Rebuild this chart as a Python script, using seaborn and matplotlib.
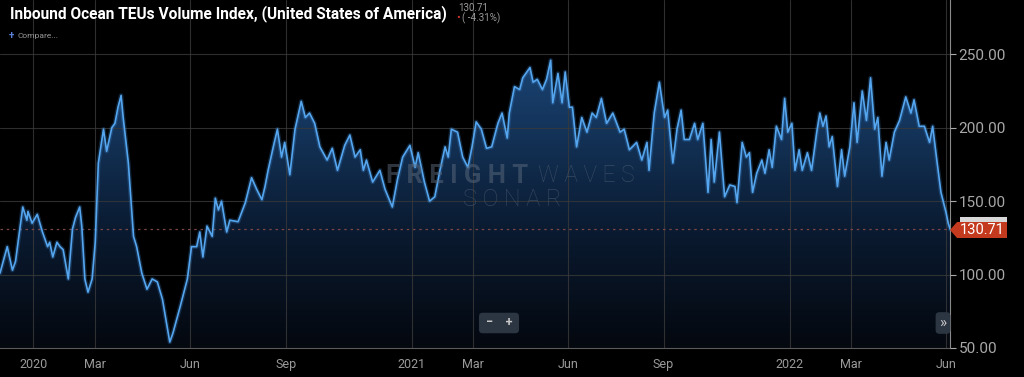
import numpy as np
import pandas as pd
import seaborn as sns
import matplotlib
matplotlib.use("Agg")
import matplotlib.pyplot as plt
import matplotlib.dates as mdates
from matplotlib.patches import Polygon, Rectangle
from matplotlib.colors import LinearSegmentedColormap

# values
dates = [
    "2019-11-30", "2019-12-07", "2019-12-12", "2019-12-15", "2019-12-22", "2019-12-26", "2019-12-27", "2019-12-31",
    "2020-01-05", "2020-01-10", "2020-01-15", "2020-01-17", "2020-01-20", "2020-01-24", "2020-01-27", "2020-01-30",
    "2020-02-04", "2020-02-08", "2020-02-11", "2020-02-15", "2020-02-17", "2020-02-20", "2020-02-23", "2020-02-27",
    "2020-03-01", "2020-03-04", "2020-03-09", "2020-03-12", "2020-03-17", "2020-03-20", "2020-03-23", "2020-03-26", "2020-03-28",
    "2020-04-02", "2020-04-07", "2020-04-10", "2020-04-15", "2020-04-20", "2020-04-25", "2020-04-30",
    "2020-05-05", "2020-05-12", "2020-05-15", "2020-05-22", "2020-05-29",
    "2020-06-02", "2020-06-07", "2020-06-10", "2020-06-13", "2020-06-17", "2020-06-22", "2020-06-25", "2020-06-28",
    "2020-07-01", "2020-07-06", "2020-07-09", "2020-07-17", "2020-07-24", "2020-07-30",
    "2020-08-04", "2020-08-09", "2020-08-12", "2020-08-15", "2020-08-20", "2020-08-24", "2020-08-28", "2020-08-31",
    "2020-09-05", "2020-09-10", "2020-09-16", "2020-09-20", "2020-09-24", "2020-09-29",
    "2020-10-04", "2020-10-11", "2020-10-16", "2020-10-21", "2020-10-28",
    "2020-11-02", "2020-11-07", "2020-11-12", "2020-11-15", "2020-11-18", "2020-11-24",
    "2020-12-01", "2020-12-06", "2020-12-13", "2020-12-18", "2020-12-23", "2020-12-30",
    "2021-01-04", "2021-01-07", "2021-01-13", "2021-01-18", "2021-01-23", "2021-01-28",
    "2021-02-02", "2021-02-05", "2021-02-08", "2021-02-14", "2021-02-19", "2021-02-24", "2021-02-28",
    "2021-03-04", "2021-03-09", "2021-03-14", "2021-03-19", "2021-03-25", "2021-03-29",
    "2021-04-03", "2021-04-05", "2021-04-10", "2021-04-15", "2021-04-18", "2021-04-25", "2021-04-28",
    "2021-05-02", "2021-05-07", "2021-05-11", "2021-05-15", "2021-05-17", "2021-05-22", "2021-05-26", "2021-05-29",
    "2021-06-02", "2021-06-05", "2021-06-09", "2021-06-14", "2021-06-19", "2021-06-24", "2021-06-28",
    "2021-07-03", "2021-07-08", "2021-07-14", "2021-07-21", "2021-07-25", "2021-07-30",
    "2021-08-06", "2021-08-11", "2021-08-16", "2021-08-18", "2021-08-23", "2021-08-28",
    "2021-09-02", "2021-09-05", "2021-09-10", "2021-09-14", "2021-09-18", "2021-09-21", "2021-09-26",
    "2021-10-01", "2021-10-04", "2021-10-09", "2021-10-14", "2021-10-17", "2021-10-20", "2021-10-25", "2021-10-30",
    "2021-11-04", "2021-11-09", "2021-11-11", "2021-11-16", "2021-11-20", "2021-11-23", "2021-11-26", "2021-11-30",
    "2021-12-05", "2021-12-08", "2021-12-12", "2021-12-15", "2021-12-19", "2021-12-24", "2021-12-27", "2021-12-30",
    "2022-01-03", "2022-01-06", "2022-01-10", "2022-01-13", "2022-01-18", "2022-01-22", "2022-01-27", "2022-01-30",
    "2022-02-02", "2022-02-05", "2022-02-08", "2022-02-11", "2022-02-16", "2022-02-20", "2022-02-23", "2022-02-28",
    "2022-03-04", "2022-03-07", "2022-03-12", "2022-03-16", "2022-03-20", "2022-03-24", "2022-03-27", "2022-03-31",
    "2022-04-04", "2022-04-07", "2022-04-12", "2022-04-17", "2022-04-23", "2022-04-28",
    "2022-05-01", "2022-05-06", "2022-05-11", "2022-05-16", "2022-05-19", "2022-05-23", "2022-05-27",
    "2022-06-01", "2022-06-03", "2022-06-05",
]
values = [
    101, 119, 103, 109, 146, 137, 143, 135,
    141, 129, 119, 122, 112, 122, 119, 117,
    97, 131, 139, 146, 133, 97, 88, 97,
    122, 176, 199, 184, 200, 203, 214, 222, 207,
    176, 126, 119, 101, 90, 97, 95,
    83, 54, 60, 78, 97,
    119, 119, 129, 112, 133, 126, 152, 144,
    150, 129, 137, 136, 149, 166,
    158, 151, 160, 171, 187, 199, 180, 190,
    168, 199, 218, 207, 210, 203,
    187, 178, 186, 171, 188,
    195, 180, 185, 171, 178, 163,
    171, 158, 146, 165, 180, 188,
    173, 183, 163, 150, 153, 171,
    187, 180, 199, 197, 180, 173, 187,
    204, 199, 186, 187, 203, 210,
    193, 210, 228, 226, 234, 241, 231,
    233, 226, 233, 246, 217, 237, 217, 238,
    214, 214, 187, 207, 197, 210, 207,
    220, 203, 210, 197, 199, 185,
    190, 178, 190, 171, 210, 231,
    207, 212, 176, 199, 212, 192, 192,
    203, 192, 203, 156, 192, 163, 197, 153,
    161, 160, 149, 190, 180, 183, 156, 169,
    178, 169, 185, 173, 201, 192, 220, 197,
    203, 171, 185, 171, 183, 171, 197, 210,
    201, 208, 187, 194, 160, 185, 167, 187,
    217, 190, 225, 205, 234, 199, 207, 167,
    190, 178, 197, 205, 221, 210,
    219, 201, 201, 190, 201, 178, 156,
    142, 135, 130.71,
]
last_value = 130.71
change_pct = "-4.31%"
tick_dates = ["2020-01-01", "2020-03-01", "2020-06-01", "2020-09-01", "2021-01-01", "2021-03-01",
              "2021-06-01", "2021-09-01", "2022-01-01", "2022-03-01", "2022-06-01"]
tick_labels = ["2020", "Mar", "Jun", "Sep", "2021", "Mar", "Jun", "Sep", "2022", "Mar", "Jun"]
y_ticks = [50, 100, 150, 200, 250]

sns.set_style("dark")
plt.rcParams['font.family'] = ['Roboto', 'DejaVu Sans']

df = pd.DataFrame({"date": pd.to_datetime(dates), "value": values})

fig = plt.figure(figsize=(10.24, 3.77), dpi=100, facecolor="black")
ax = fig.add_axes([0, 0.077, 0.928, 0.923])
ax.set_facecolor("black")

x0 = mdates.date2num(pd.Timestamp("2019-11-30"))
x1 = mdates.date2num(pd.Timestamp("2022-06-05"))
ymin, ymax = 50, 287

# gradient area under the line
area = ax.fill_between(df["date"], df["value"], ymin, color="none", lw=0)
cmap = LinearSegmentedColormap.from_list("fw", ["#04080f", "#0a1a30", "#15375f", "#1f4f86"])
grad = np.linspace(1, 0, 256).reshape(-1, 1)
im = ax.imshow(grad, extent=[x0, x1, ymin, ymax], aspect="auto", cmap=cmap, origin="upper", zorder=1)
im.set_clip_path(area.get_paths()[0], transform=ax.transData)

# soft glow + line
sns.lineplot(data=df, x="date", y="value", ax=ax, color="#3f8fe0", lw=3.2, alpha=0.25, zorder=4)
sns.lineplot(data=df, x="date", y="value", ax=ax, color="#55a6ee", lw=1.2, zorder=5)

ax.axhline(last_value, color="#7a4646", ls=(0, (2, 3)), lw=0.9, zorder=3)

ax.set_xlim(x0, x1)
ax.set_ylim(ymin, ymax)
ax.set_xticks(pd.to_datetime(tick_dates))
ax.set_xticklabels(tick_labels)
ax.yaxis.tick_right()
ax.set_yticks(y_ticks)
ax.set_yticklabels([f"{v:.2f}" for v in y_ticks])
ax.set_xlabel("")
ax.set_ylabel("")
ax.tick_params(axis="x", colors="#9a9a9a", labelsize=9, length=3, pad=4)
ax.tick_params(axis="y", colors="#a8a8a8", labelsize=11, length=4, pad=2)
ax.grid(True, color="#3a3a3a", lw=0.8, alpha=0.8)
ax.set_axisbelow(False)
for side in ["left", "top"]:
    ax.spines[side].set_visible(False)
ax.spines["right"].set_color("#8a8a8a")
ax.spines["bottom"].set_color("#5a5a5a")


def fx(px):
    return px / 1024


def fy(py):
    return 1 - py / 377


# watermark
wm = dict(color="#5c6a7c", alpha=0.5, va="center", zorder=6)
fig.text(fx(386), fy(176), "F R E I G H T", fontsize=18.5, weight="bold", **wm)
fig.text(fx(538), fy(176), "W A V E S", fontsize=16.5, weight="light", **wm)
fig.text(fx(512), fy(199), "S O N A R", fontsize=17, weight="light", ha="center", **wm)

# price tag
fig.patches.append(Rectangle((fx(960), fy(223)), fx(47), 6 / 377, transform=fig.transFigure,
                             facecolor="#d8d8d8", edgecolor="none"))
tag = [(950, 230), (957, 222), (1007, 222), (1007, 238), (957, 238)]
fig.patches.append(Polygon([(fx(a), fy(b)) for a, b in tag], closed=True, transform=fig.transFigure,
                           facecolor="#c43a1e", edgecolor="none"))
fig.text(fx(982), fy(230.5), f"{last_value:.2f}", color="white", fontsize=10.5, ha="center", va="center")

# title and header
fig.text(fx(10), fy(14), "Inbound Ocean TEUs Volume Index, (United States of America)",
         weight="bold", fontsize=11.2, color="white", va="center")
fig.text(fx(458), fy(8), f"{last_value:.2f}", fontsize=7, color="#9a9a9a", va="center")
fig.text(fx(456), fy(18.5), "\u2022", fontsize=8, color="#d0342c", va="center")
fig.text(fx(462), fy(18.5), f"( {change_pct})", fontsize=7, color="#9a9a9a", va="center")
fig.text(fx(9), fy(36), "+", fontsize=7, color="#5b7fd6", va="center", weight="bold")
fig.text(fx(18), fy(36), "Compare...", fontsize=6, color="#9a9a9a", va="center")

# zoom controls
fig.text(fx(499), fy(323), " \u2212    + ", fontsize=9, color="#c8c8c8", ha="center", va="center",
         weight="bold", bbox=dict(boxstyle="round,pad=0.3", facecolor="#2c3642", edgecolor="none"))
fig.text(fx(943), fy(323), "\u00bb", fontsize=11, color="#c8c8c8", ha="center", va="center",
         bbox=dict(boxstyle="round,pad=0.25", facecolor="#2c3642", edgecolor="none"))

fig.savefig("out.png", dpi=100, facecolor="black")
